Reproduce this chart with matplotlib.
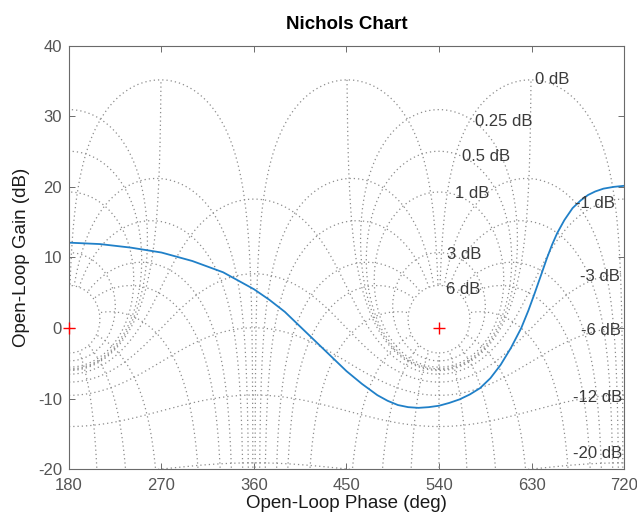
import numpy as np
import matplotlib
matplotlib.use("Agg")
import matplotlib.pyplot as plt

plt.rcParams['font.family'] = ['Liberation Sans', 'DejaVu Sans']
plt.rcParams['axes.unicode_minus'] = False

# open-loop response
phase_deg = [180, 210, 240, 270, 300, 330, 360, 375, 390, 405, 420, 435, 450,
             465, 480, 490, 500, 510, 520, 530, 540, 550, 560, 570, 580, 590,
             600, 610, 620, 627, 633, 640, 645, 650, 655, 662, 670, 678, 685,
             692, 700, 710, 720]
gain_db = [12.1, 11.9, 11.4, 10.7, 9.5, 7.9, 5.5, 4.0, 2.3, 0.2, -1.9, -4.0, -6.1,
           -7.9, -9.5, -10.3, -10.9, -11.2, -11.3, -11.2, -11.0, -10.6, -10.1, -9.4,
           -8.5, -7.1, -5.2, -2.8, 0.0, 2.5, 4.9, 7.8, 9.9, 11.8, 13.45, 15.3, 17.0,
           18.1, 18.85, 19.35, 19.75, 20.0, 20.15]

# closed-loop gain (M) and phase (N) values of the Nichols grid
grid_gains_db = [6, 3, 1, 0.5, 0.25, 0, -1, -3, -6, -12, -20]
grid_phases_deg = [1, 5, 10, 20, 30, 50, 90, 120, 150, 180]

# grid labels: text, phase, gain, alignment
label_text = ["0 dB", "0.25 dB", "0.5 dB", "1 dB", "3 dB", "6 dB",
              "-1 dB", "-3 dB", "-6 dB", "-12 dB", "-20 dB"]
label_phase = [633.5, 575.5, 562, 556, 547.5, 546.5,
               711, 716, 716.5, 718, 718]
label_gain = [35.2, 29.2, 24.3, 19.0, 10.4, 5.5,
              17.7, 7.3, -0.4, -9.9, -17.7]
label_ha = ["left"] * 6 + ["right"] * 5

centers_deg = [180, 540]

grid_color = '#8c8c8c'
dots = (0, (1, 2.4))


def gain_contour(mdb):
    if mdb == 0:
        ph = np.linspace(-269.5, -90.5, 1500)
        g = -1 / (2 * np.cos(np.radians(ph)))
        return ph, 20 * np.log10(g)
    m = 10 ** (mdb / 20)
    th = np.linspace(-np.pi, np.pi, 7201)
    t = m * np.exp(1j * th)
    g = t / (1 - t)
    return np.degrees(np.unwrap(np.angle(g))), 20 * np.log10(np.abs(g))


def phase_contour(th_deg):
    # closed-loop magnitude runs up to the largest grid gain (6 dB)
    r = np.logspace(-6, max(grid_gains_db) / 20, 8000)
    t = r * np.exp(1j * np.radians(th_deg))
    g = t / (1 - t)
    return np.degrees(np.unwrap(np.angle(g))), 20 * np.log10(np.abs(g))


fig = plt.figure(figsize=(6.37, 5.22), dpi=100)
ax = fig.add_axes([0.1083, 0.101, 0.8713, 0.8115])

shifts = [-720, -360, 0, 360, 720, 1080]
for mdb in grid_gains_db:
    ph, gg = gain_contour(mdb)
    for s in shifts:
        ax.plot(ph + s, gg, color=grid_color, lw=0.9, linestyle=dots)

for p in grid_phases_deg:
    for sign in ([-1] if p == 180 else [-1, 1]):
        ph, gg = phase_contour(sign * p)
        for s in shifts:
            ax.plot(ph + s, gg, color=grid_color, lw=0.9, linestyle=dots)

for txt, x, y, ha in zip(label_text, label_phase, label_gain, label_ha):
    ax.text(x, y, txt, ha=ha, va='center', fontsize=12, color='#3a3a3a')

ax.plot(phase_deg, gain_db, color='#2080c8', lw=1.3)

ax.plot(centers_deg, [0, 0], linestyle='none', marker='+', color='red',
        markersize=9, mew=1.0, clip_on=False, zorder=5)

ax.set_xlim(180, 720)
ax.set_ylim(-20, 40)
ax.set_xticks([180, 270, 360, 450, 540, 630, 720])
ax.set_yticks([-20, -10, 0, 10, 20, 30, 40])
ax.tick_params(direction='in', top=True, right=True, length=4, width=0.6,
               color='#555555', labelcolor='#555555', labelsize=12)
ax.tick_params(axis='x', pad=6)
ax.tick_params(axis='y', pad=5)
for sp in ax.spines.values():
    sp.set_color('#6a6a6a')
    sp.set_linewidth(0.8)

ax.set_title("Nichols Chart", fontsize=13.5, fontweight='bold', pad=12)
ax.set_xlabel("Open-Loop Phase (deg)", fontsize=13.5, color='#1a1a1a')
ax.set_ylabel("Open-Loop Gain (dB)", fontsize=13.5, color='#1a1a1a')
ax.xaxis.set_label_coords(0.5, -0.06)
ax.yaxis.set_label_coords(-0.07, 0.5)

fig.savefig("out.png", dpi=100)
